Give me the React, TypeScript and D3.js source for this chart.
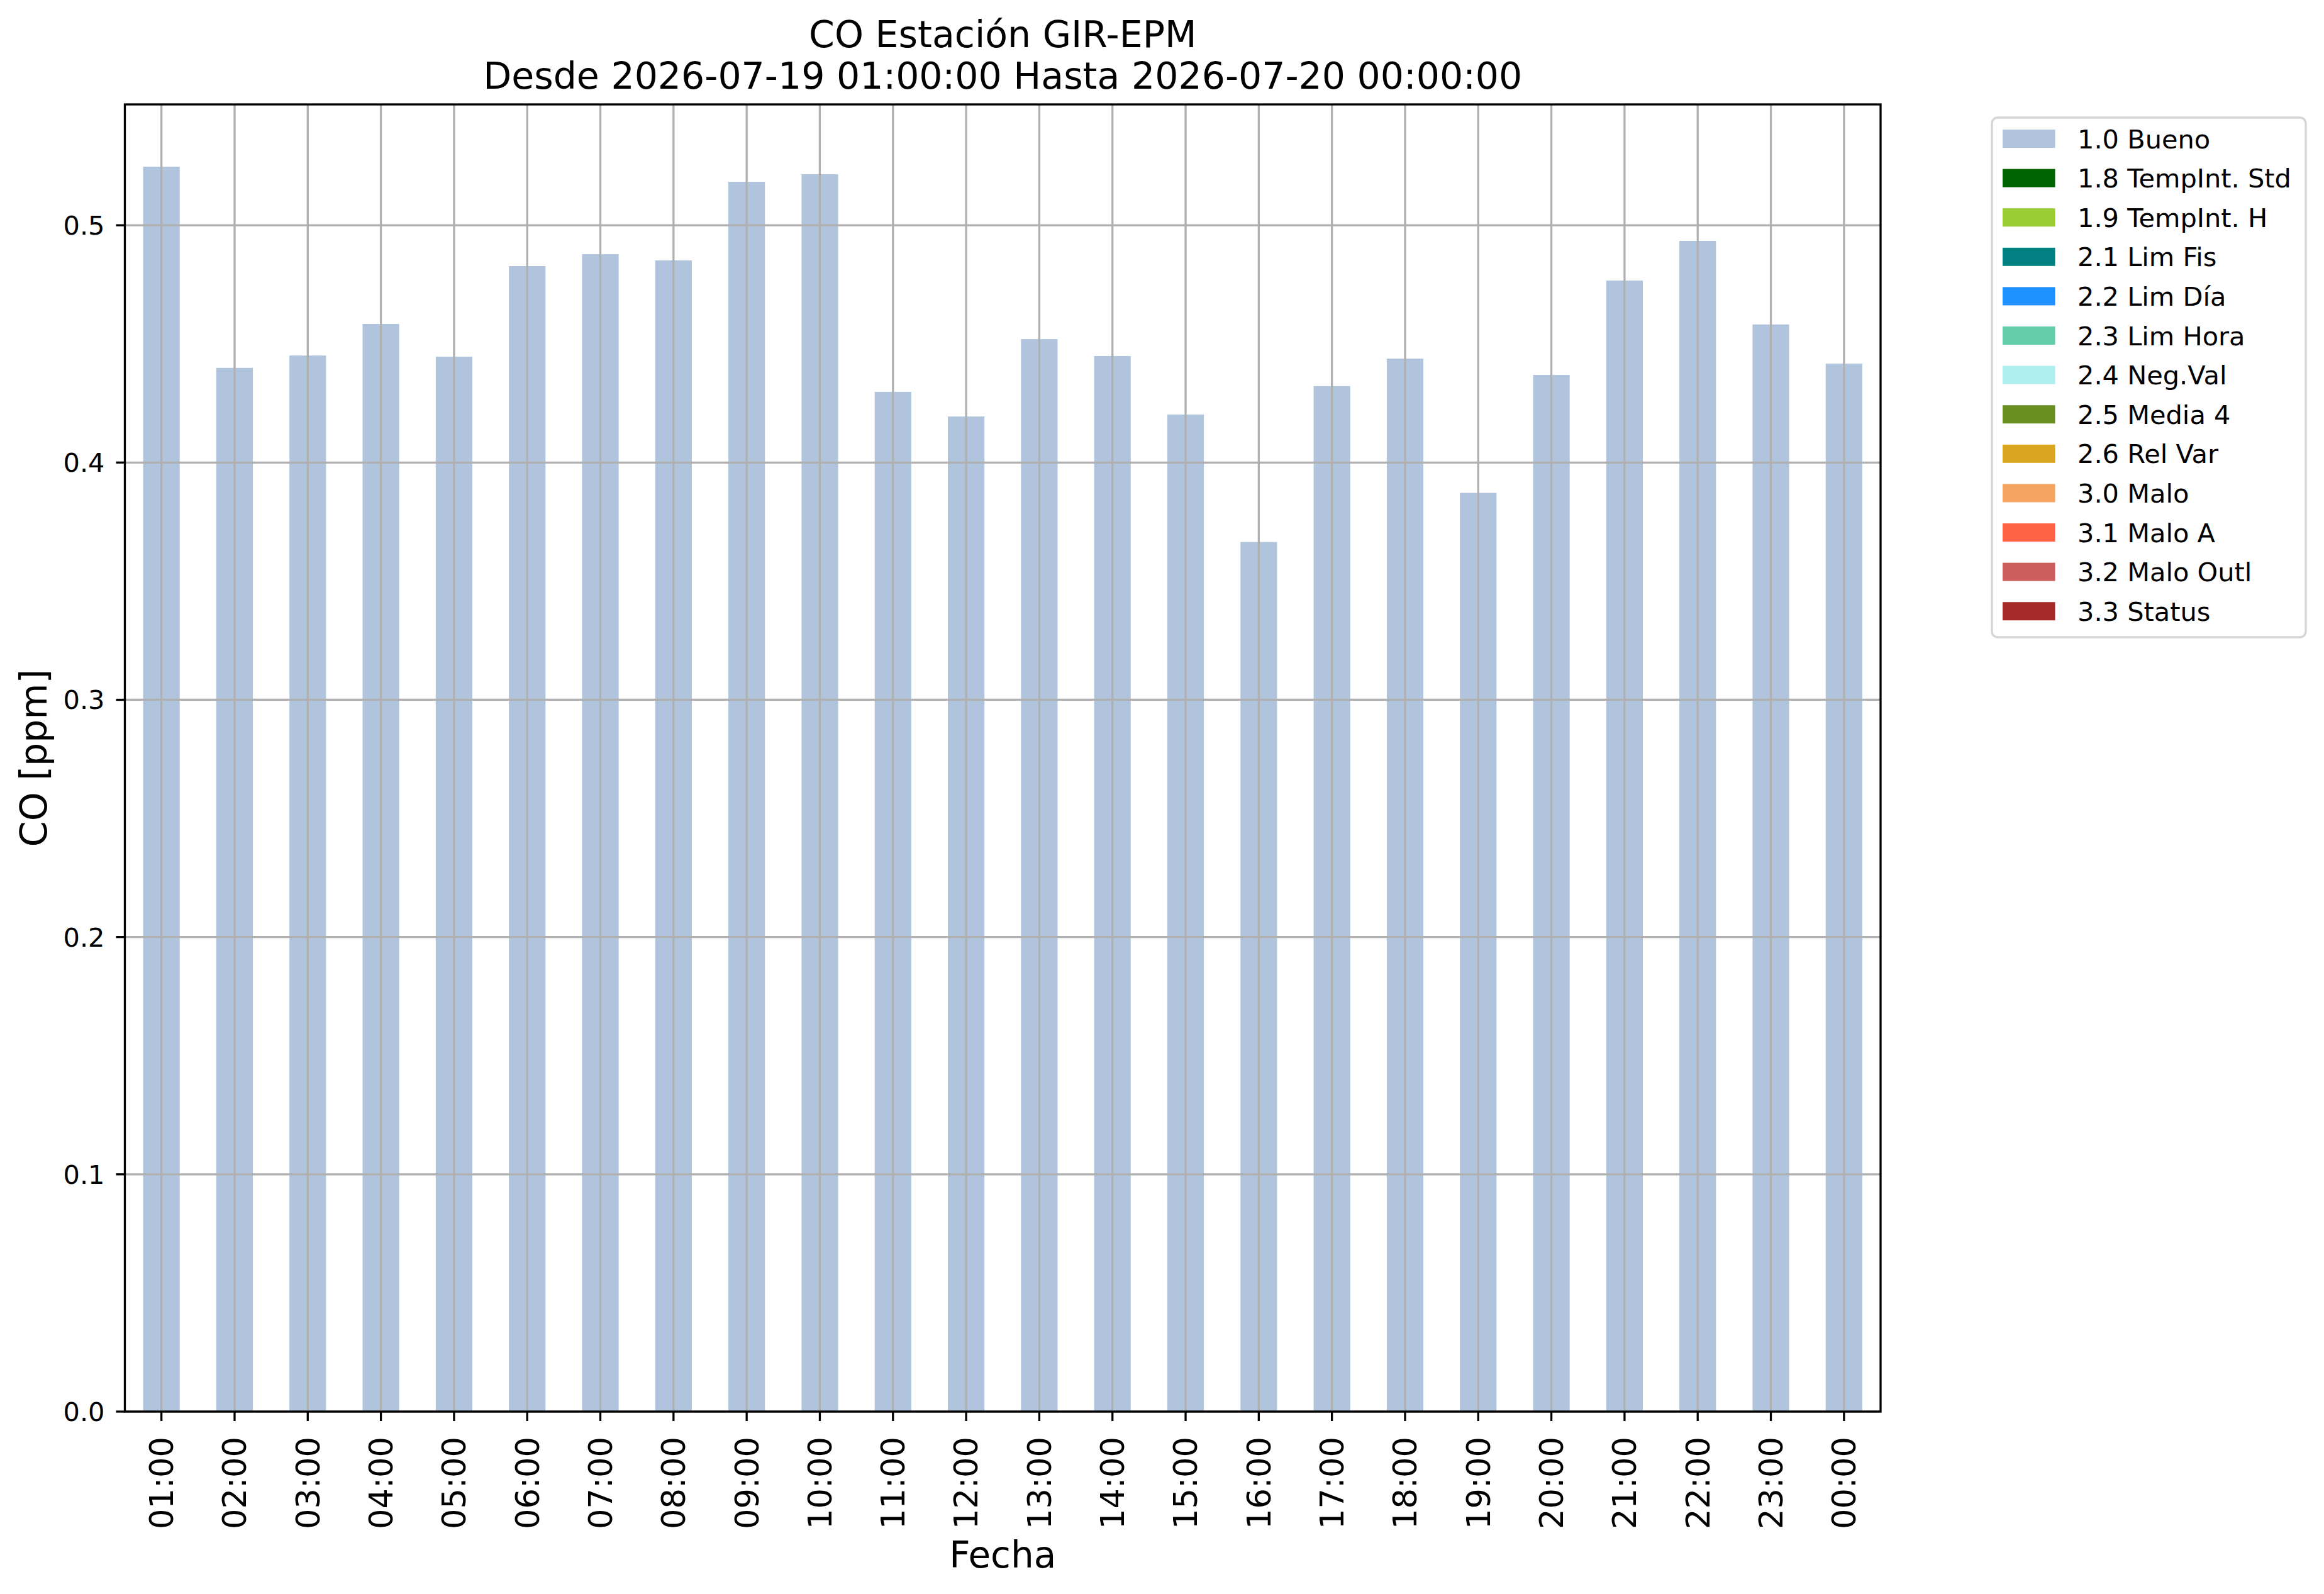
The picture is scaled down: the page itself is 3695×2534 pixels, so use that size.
import React from "react";
import * as d3 from "d3";

const hours = ["01:00","02:00","03:00","04:00","05:00","06:00","07:00","08:00","09:00","10:00","11:00","12:00","13:00","14:00","15:00","16:00","17:00","18:00","19:00","20:00","21:00","22:00","23:00","00:00"];
const coValues = [0.5247,0.4399,0.4451,0.4584,0.4446,0.4828,0.4878,0.4852,0.5183,0.5215,0.4298,0.4194,0.452,0.4449,0.4202,0.3665,0.4322,0.4438,0.3872,0.4369,0.4767,0.4934,0.4582,0.4417];
const yTicks = [0, 0.1, 0.2, 0.3, 0.4, 0.5];
const legendLabels = ["1.0 Bueno","1.8 TempInt. Std","1.9 TempInt. H","2.1 Lim Fis","2.2 Lim Día","2.3 Lim Hora","2.4 Neg.Val","2.5 Media 4","2.6 Rel Var","3.0 Malo","3.1 Malo A","3.2 Malo Outl","3.3 Status"];
const legendColors = ["#B0C4DE","#006400","#9ACD32","#008080","#1E90FF","#66CDAA","#AFEEEE","#6B8E23","#DAA520","#F4A460","#FF6347","#CD5C5C","#A52A2A"];
const titleLines = ["CO Estación GIR-EPM","Desde 2026-07-19 01:00:00 Hasta 2026-07-20 00:00:00"];

const W = 3695, H = 2534;
const L = 198.5, R = 2990, T = 166, B = 2244;
const FONT = "'DejaVu Sans', sans-serif";
const LW = 3.3;

export default function App() {
  const x = d3.scaleBand<string>().domain(hours).range([L, R]).paddingInner(0.5).paddingOuter(0.25);
  const yMax = (d3.max(coValues) as number) * 1.05;
  const y = d3.scaleLinear().domain([0, yMax]).range([B, T]);
  const cx = (h: string) => (x(h) as number) + x.bandwidth() / 2;
  const midX = (L + R) / 2;
  const midY = (T + B) / 2;

  const legX = 3167, legY = 187, legW = 499, rowStep = 62.6, patchY0 = 206;
  const legH = 826;

  return (
    <svg width={W} height={H} viewBox={`0 0 ${W} ${H}`} style={{ position: "absolute", left: 0, top: 0, background: "#fff" }} fontFamily={FONT}>
      <rect x={0} y={0} width={W} height={H} fill="#fff" />
      {/* bars */}
      {hours.map((h, i) => (
        <rect key={h} x={x(h)} y={y(coValues[i])} width={x.bandwidth()} height={B - y(coValues[i])} fill="#B0C4DE" />
      ))}
      {/* grid */}
      {yTicks.map((t) => (
        <line key={"gy" + t} x1={L} x2={R} y1={y(t)} y2={y(t)} stroke="#b0b0b0" strokeWidth={LW} />
      ))}
      {hours.map((h) => (
        <line key={"gx" + h} x1={cx(h)} x2={cx(h)} y1={T} y2={B} stroke="#b0b0b0" strokeWidth={LW} />
      ))}
      {/* spines */}
      <rect x={L} y={T} width={R - L} height={B - T} fill="none" stroke="#000" strokeWidth={LW} />
      {/* y ticks */}
      {yTicks.map((t) => (
        <g key={"yt" + t}>
          <line x1={L - 14} x2={L} y1={y(t)} y2={y(t)} stroke="#000" strokeWidth={LW} />
          <text x={L - 32} y={y(t)} dy="0.36em" textAnchor="end" fontSize={41.5} fill="#000">{d3.format(".1f")(t)}</text>
        </g>
      ))}
      {/* x ticks */}
      {hours.map((h) => (
        <g key={"xt" + h}>
          <line x1={cx(h)} x2={cx(h)} y1={B} y2={B + 15} stroke="#000" strokeWidth={LW} />
          <text transform={`translate(${cx(h)},${B + 40}) rotate(-90)`} dy="0.36em" textAnchor="end" fontSize={51} fill="#000">{h}</text>
        </g>
      ))}
      {/* titles */}
      <text x={midX} y={75} textAnchor="middle" fontSize={58.5} fill="#000">{titleLines[0]}</text>
      <text x={midX} y={141} textAnchor="middle" fontSize={58.5} fill="#000">{titleLines[1]}</text>
      {/* axis labels */}
      <text transform={`translate(74,${midY}) rotate(-90)`} textAnchor="middle" fontSize={58.5} fill="#000">CO [ppm]</text>
      <text x={midX} y={2492} textAnchor="middle" fontSize={58} fill="#000">Fecha</text>
      {/* legend */}
      <rect x={legX} y={legY} width={legW} height={legH} rx={9} fill="#fff" fillOpacity={0.8} stroke="#d5d5d5" strokeWidth={LW} />
      {legendLabels.map((lab, i) => (
        <g key={lab}>
          <rect x={3184} y={patchY0 + i * rowStep} width={83.5} height={29} fill={legendColors[i]} />
          <text x={3303} y={patchY0 + i * rowStep + 14.5 + 15} fontSize={41.5} fill="#000">{lab}</text>
        </g>
      ))}
    </svg>
  );
}
